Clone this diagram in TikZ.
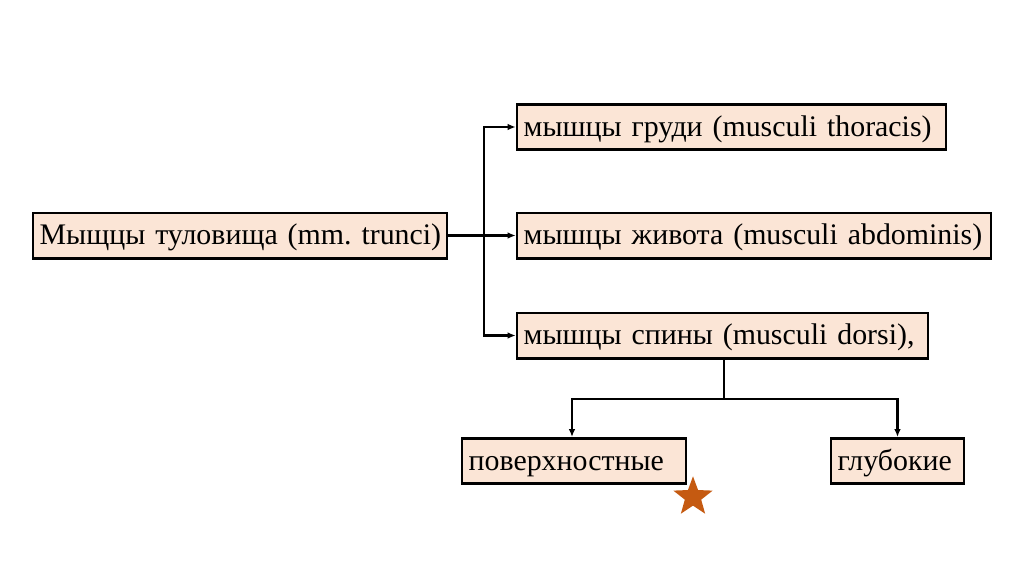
\documentclass[tikz,border=0pt]{standalone}
\usepackage{fontspec}
\setmainfont{Liberation Serif}
\frenchspacing
\usetikzlibrary{arrows.meta,shapes.geometric}
\definecolor{boxfill}{HTML}{FBE5D6}
\definecolor{starc}{HTML}{C55A11}
\begin{document}
\begin{tikzpicture}[x=0.75pt,y=-0.75pt,
  box/.style={draw=black,line width=2pt,fill=boxfill,inner xsep=5pt,inner ysep=0pt,
    minimum height=34pt,text height=19pt,text depth=5pt,align=left,font=\fontsize{22.4}{24}\selectfont},
  conn/.style={line width=1.7pt,draw=black},
  arr/.style={conn,-{Latex[length=6pt,width=5pt]}}]
\useasboundingbox (0,0) rectangle (1024,574);
\node[box,text width=300.5pt] (main) at (240,235.5) {\mbox{Мыщцы туловища (mm. trunci)}};
\node[box,text width=311.75pt] (b1) at (731.5,127) {\mbox{мышцы груди (musculi thoracis)}};
\node[box,text width=345.5pt] (b2) at (754,235.5) {\mbox{мышцы живота (musculi abdominis)}};
\node[box,text width=298.25pt] (b3) at (722.5,335.5) {\mbox{мышцы спины (musculi dorsi),}};
\node[box,text width=158pt] (b4) at (574,461) {\mbox{поверхностные}};
\node[box,text width=89.75pt] (b5) at (897.5,461) {\mbox{глубокие}};
\coordinate (v) at (484,235.5);
\coordinate (d) at (724,399);
\draw[conn] (main.east) -- (v);
\draw[arr] (v) -- (b2.west);
\draw[arr] (v) |- (b1.west);
\draw[arr] (v) |- (b3.west);
\draw[conn] (b3.south -| d) -- (d);
\draw[arr] (d) -| (b4.north -| 572,0);
\draw[arr] (d) -| (b5.north);
\node[star,star points=5,star point ratio=2.4,fill=starc,draw=none,minimum size=31pt,inner sep=0pt] (st) at (693,497) {};
\end{tikzpicture}
\end{document}
